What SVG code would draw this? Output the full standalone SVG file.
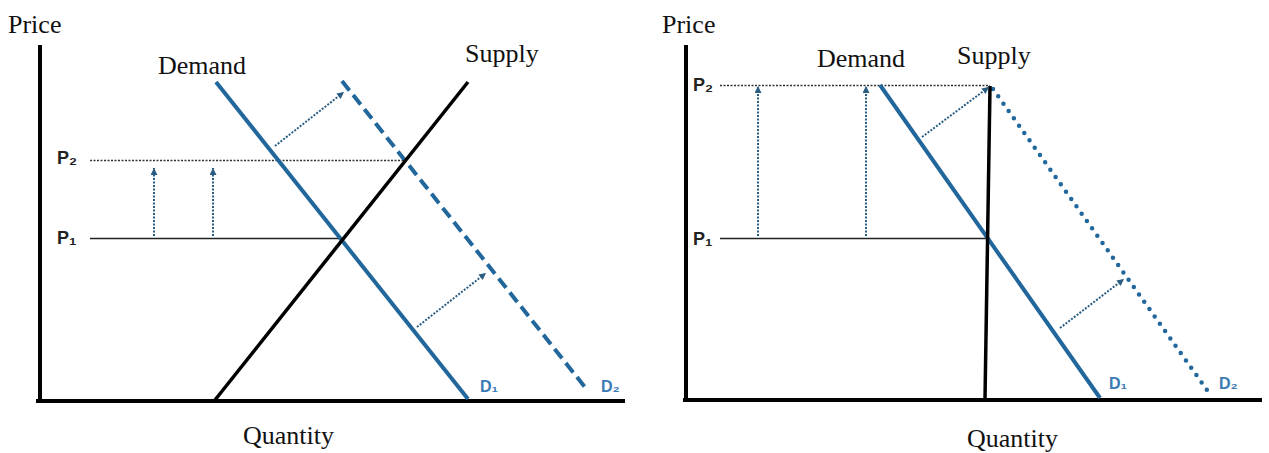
<svg xmlns="http://www.w3.org/2000/svg" width="1269" height="453" viewBox="0 0 1269 453">
<style>
.bg{fill:#ffffff}
.axis{stroke:#000;stroke-width:4;fill:none}
.serif{font-family:"Liberation Serif","Times New Roman",serif;font-size:26px;fill:#111}
.plab{font-family:"Liberation Sans","DejaVu Sans",sans-serif;font-weight:bold;font-size:18px;fill:#222}
.dlab{font-family:"Liberation Sans","DejaVu Sans",sans-serif;font-weight:bold;font-size:16px;fill:#3a7ab4}
.sub{font-size:15px}
.demand{stroke:#21679c;stroke-width:4;fill:none}
.d2dash{stroke:#21679c;stroke-width:4;fill:none;stroke-dasharray:12 6}
.d2dot{stroke:#21679c;stroke-width:4.5;fill:none;stroke-dasharray:0 9;stroke-linecap:round}
.supply{stroke:#000;stroke-width:3.5;fill:none}
.p1{stroke:#222;stroke-width:1.6;fill:none}
.p2{stroke:#333;stroke-width:1.3;fill:none;stroke-dasharray:2 1.5}
.arr{stroke:#2b5d82;stroke-width:2;fill:none;stroke-dasharray:2 1.5;marker-end:url(#ah)}
</style>
<defs>
<marker id="ah" markerUnits="userSpaceOnUse" markerWidth="8" markerHeight="8" refX="7" refY="3.5" orient="auto">
<path d="M0,0 L7,3.5 L0,7 z" fill="#2b5d82"/>
</marker>
</defs>
<rect class="bg" x="0" y="0" width="1269" height="453"/>

<g id="left-chart">
  <g id="left-axes">
    <line class="axis" x1="40" y1="45" x2="40" y2="403"/>
    <line class="axis" x1="36" y1="401" x2="625" y2="401"/>
    <text class="serif" x="8" y="33">Price</text>
    <text class="serif" x="243" y="444">Quantity</text>
  </g>
  <g id="left-price-lines">
    <line class="p2" x1="90" y1="160.5" x2="406" y2="160.5"/>
    <line class="p1" x1="90" y1="238.5" x2="341" y2="238.5"/>
    <text class="plab" x="57" y="164">P₂</text>
    <text class="plab" x="57" y="244">P₁</text>
  </g>
  <g id="left-demand">
    <line class="demand" x1="216" y1="82" x2="468" y2="399"/>
    <text class="serif" x="158" y="74">Demand</text>
    <text class="dlab" x="480" y="392">D₁</text>
  </g>
  <g id="left-demand2">
    <line class="d2dash" x1="342" y1="81" x2="588" y2="391"/>
    <text class="dlab" x="601" y="392">D₂</text>
  </g>
  <g id="left-supply">
    <line class="supply" x1="215" y1="400" x2="468" y2="82"/>
    <text class="serif" x="465" y="62">Supply</text>
  </g>
  <g id="left-connectors">
    <line class="arr" x1="154" y1="236" x2="154" y2="168"/>
    <line class="arr" x1="213" y1="236" x2="213" y2="168"/>
    <line class="arr" x1="275" y1="146" x2="344" y2="92"/>
    <line class="arr" x1="417" y1="327" x2="486" y2="273"/>
  </g>
</g>

<g id="right-chart">
  <g id="right-axes">
    <line class="axis" x1="686" y1="45" x2="686" y2="402"/>
    <line class="axis" x1="683" y1="400" x2="1262" y2="400"/>
    <text class="serif" x="662" y="33">Price</text>
    <text class="serif" x="967" y="447">Quantity</text>
  </g>
  <g id="right-price-lines">
    <line class="p2" x1="720" y1="85.5" x2="990" y2="85.5"/>
    <line class="p1" x1="720" y1="238.5" x2="988" y2="238.5"/>
    <text class="plab" x="693" y="91">P₂</text>
    <text class="plab" x="693" y="245">P₁</text>
  </g>
  <g id="right-demand">
    <line class="demand" x1="880" y1="85" x2="1100" y2="398"/>
    <text class="serif" x="817" y="67">Demand</text>
    <text class="dlab" x="1109" y="389">D₁</text>
  </g>
  <g id="right-demand2">
    <line class="d2dot" x1="993" y1="89" x2="1207" y2="390"/>
    <text class="dlab" x="1219" y="389">D₂</text>
  </g>
  <g id="right-supply">
    <line class="supply" x1="990" y1="86" x2="985" y2="399"/>
    <text class="serif" x="957" y="64">Supply</text>
  </g>
  <g id="right-connectors">
    <line class="arr" x1="758" y1="236" x2="758" y2="86"/>
    <line class="arr" x1="866" y1="236" x2="866" y2="86"/>
    <line class="arr" x1="922" y1="137" x2="989" y2="87"/>
    <line class="arr" x1="1060" y1="328" x2="1124" y2="279"/>
  </g>
</g>
</svg>
